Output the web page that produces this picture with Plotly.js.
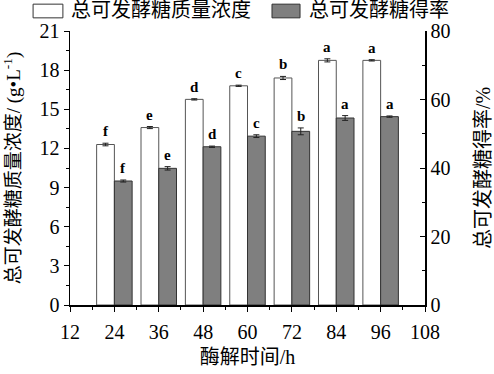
<!DOCTYPE html>
<html>
<head>
<meta charset="utf-8">
<script src="https://cdn.plot.ly/plotly-3.0.1.min.js"></script>
<style>html,body{margin:0;padding:0;background:#fff;}#chart{width:494px;height:374px;}</style>
</head>
<body>
<div id="chart"></div>
<script>
// Data
const times = [24, 36, 48, 60, 72, 84, 96];
const concValues = [12.3, 13.6, 15.76, 16.8, 17.4, 18.75, 18.75];
const concErrors = [0.1, 0.08, 0.05, 0.05, 0.12, 0.12, 0.05];
const concLetters = ['f', 'e', 'd', 'c', 'b', 'a', 'a'];
const yieldValues = [36.2, 39.9, 46.2, 49.3, 50.7, 54.6, 55.0];
const yieldErrors = [0.3, 0.5, 0.2, 0.4, 1.0, 0.7, 0.2];
const yieldLetters = ['f', 'e', 'd', 'c', 'b', 'a', 'a'];
const xTicks = [12, 24, 36, 48, 60, 72, 84, 96, 108];
const seriesNames = ['总可发酵糖质量浓度', '总可发酵糖得率'];

const serif = '"Liberation Serif", "Noto Sans CJK SC", serif';
const cjk = '"Liberation Serif", "Noto Sans CJK SC", serif';
const barW = 4.8;

const traces = [
  {
    type: 'bar', name: seriesNames[0], x: times, y: concValues,
    width: barW, offset: -barW,
    marker: {color: '#ffffff', line: {color: '#555555', width: 1}},
    error_y: {type: 'data', array: concErrors, visible: true, color: '#222', thickness: 1, width: 3},
    xaxis: 'x', yaxis: 'y', showlegend: false
  },
  {
    type: 'bar', name: seriesNames[1], x: times, y: yieldValues,
    width: barW, offset: 0,
    marker: {color: '#7f7f7f', line: {color: '#333333', width: 1}},
    error_y: {type: 'data', array: yieldErrors, visible: true, color: '#222', thickness: 1, width: 3},
    xaxis: 'x', yaxis: 'y2', showlegend: false
  }
];

const annotations = [];
times.forEach((t, i) => {
  annotations.push({
    x: t - barW / 2, y: concValues[i] + concErrors[i], xref: 'x', yref: 'y',
    text: concLetters[i], showarrow: false, yanchor: 'bottom', yshift: 2,
    font: {family: serif, size: 15, color: '#000', weight: 'bold'}
  });
  annotations.push({
    x: t + barW / 2, y: yieldValues[i] + yieldErrors[i], xref: 'x', yref: 'y2',
    text: yieldLetters[i], showarrow: false, yanchor: 'bottom', yshift: 2,
    font: {family: serif, size: 15, color: '#000', weight: 'bold'}
  });
});
// custom legend texts
annotations.push({
  xref: 'paper', yref: 'paper', x: -0.003, y: 1.075, xanchor: 'left', yanchor: 'middle',
  text: seriesNames[0], showarrow: false, font: {family: cjk, size: 20, color: '#000'}
});
annotations.push({
  xref: 'paper', yref: 'paper', x: 0.668, y: 1.075, xanchor: 'left', yanchor: 'middle',
  text: seriesNames[1], showarrow: false, font: {family: cjk, size: 20, color: '#000'}
});

const shapes = [
  {type: 'rect', xref: 'paper', yref: 'paper', x0: -0.104, x1: -0.020, y0: 1.048, y1: 1.098,
   fillcolor: '#ffffff', line: {color: '#333', width: 1}},
  {type: 'rect', xref: 'paper', yref: 'paper', x0: 0.569, x1: 0.648, y0: 1.048, y1: 1.098,
   fillcolor: '#7f7f7f', line: {color: '#333', width: 1}}
];

const layout = {
  width: 494, height: 374,
  margin: {l: 70, r: 69, t: 31, b: 69},
  paper_bgcolor: '#fff', plot_bgcolor: '#fff',
  barmode: 'overlay',
  showlegend: false,
  font: {family: serif, color: '#000', size: 19},
  xaxis: {
    range: [12, 108], tickvals: xTicks, ticktext: xTicks.map(String),
    ticks: 'outside', ticklen: 5, tickwidth: 1, tickcolor: '#000',
    ticklabelstandoff: 3,
    minor: {dtick: 6, tick0: 12, ticks: 'outside', ticklen: 3, tickcolor: '#000'},
    showline: true, linecolor: '#000', linewidth: 1.5, showgrid: false, zeroline: false,
    tickfont: {family: serif, size: 20, color: '#000'},
    title: {text: '酶解时间/h', font: {family: cjk, size: 20, color: '#000'}, standoff: 8}
  },
  yaxis: {
    range: [0, 21], dtick: 3, tick0: 0,
    ticks: 'outside', ticklen: 5, tickwidth: 1, tickcolor: '#000',
    minor: {dtick: 1.5, ticks: 'outside', ticklen: 3, tickcolor: '#000'},
    showline: true, linecolor: '#000', linewidth: 1.5, showgrid: false, zeroline: false,
    tickfont: {family: serif, size: 20, color: '#000'},
    title: {text: '总可发酵糖质量浓度/ (g•L<sup>-1</sup>)', font: {family: cjk, size: 19, color: '#000'}, standoff: 17}
  },
  yaxis2: {
    overlaying: 'y', side: 'right', range: [0, 80], dtick: 20, tick0: 0,
    ticks: 'inside', ticklen: 5, tickwidth: 1, tickcolor: '#000',
    minor: {dtick: 10, ticks: 'inside', ticklen: 3, tickcolor: '#000'},
    showline: true, linecolor: '#000', linewidth: 1.5, showgrid: false, zeroline: false,
    tickfont: {family: serif, size: 20, color: '#000'},
    title: {text: '总可发酵糖得率/%', font: {family: cjk, size: 20, color: '#000'}, standoff: 26}
  },
  annotations: annotations,
  shapes: shapes
};

Plotly.newPlot('chart', traces, layout, {displayModeBar: false, staticPlot: true});
</script>
</body>
</html>
